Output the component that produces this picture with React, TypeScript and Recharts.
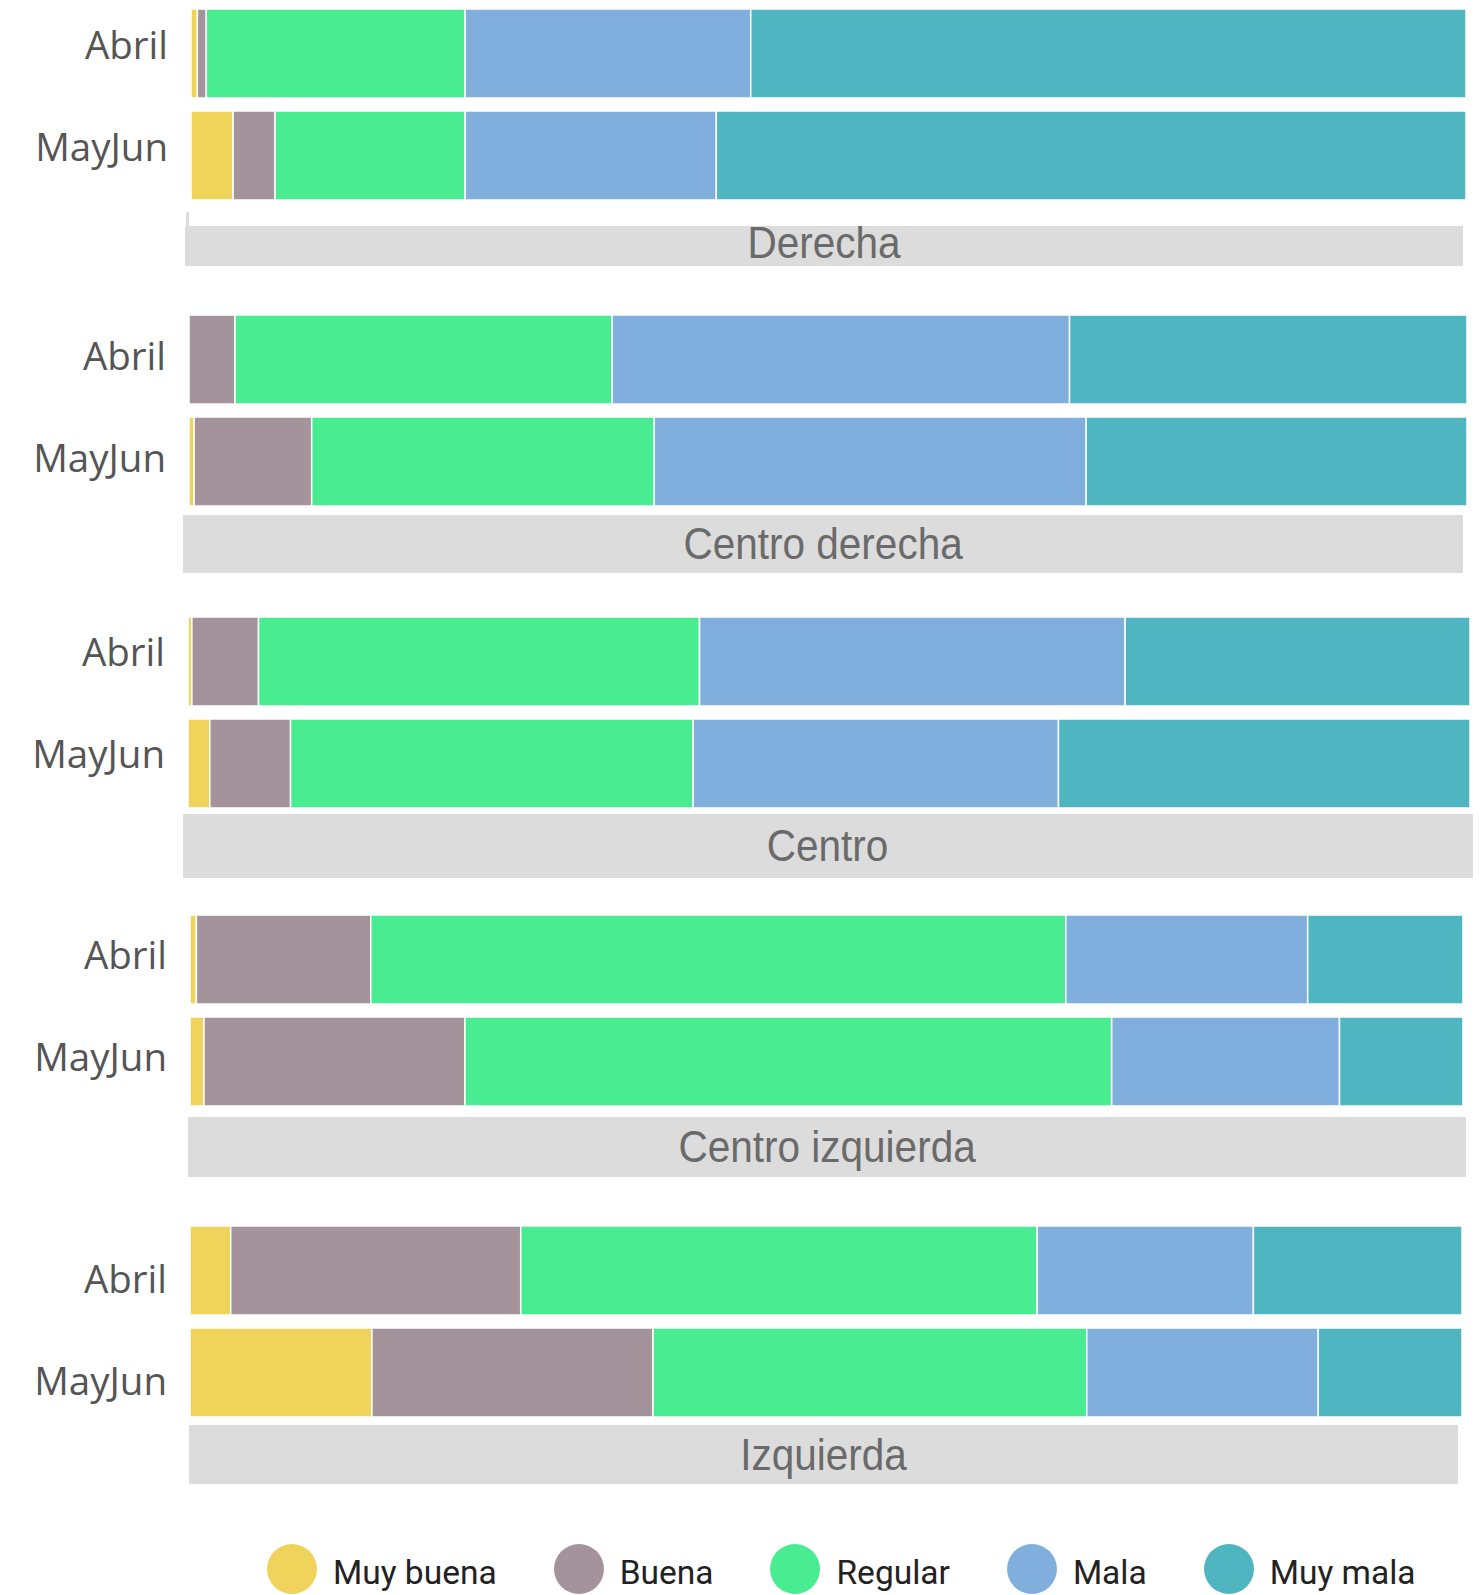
import { Bar, BarChart, XAxis, YAxis } from "recharts";

const periods = ["Abril", "MayJun"];
const groups = ["Derecha", "Centro derecha", "Centro", "Centro izquierda", "Izquierda"];
const seriesNames = ["Muy buena", "Buena", "Regular", "Mala", "Muy mala"];
const seriesKeys = ["muyBuena", "buena", "regular", "mala", "muyMala"];
const seriesColors = ["#EFD35A", "#A5939C", "#4AEC92", "#80AFDE", "#4FB6C1"];

// [Abril, MayJun] per group, in percent
const muyBuena = [[0.5, 3.3], [0, 0.4], [0.3, 1.7], [0.5, 1.1], [3.2, 14.3]];
const buena = [[0.7, 3.3], [3.6, 9.2], [5.2, 6.3], [13.7, 20.5], [22.8, 22.1]];
const regular = [[20.3, 14.9], [29.5, 26.8], [34.4, 31.4], [54.6, 50.8], [40.6, 34.1]];
const mala = [[22.4, 19.7], [35.8, 33.8], [33.2, 28.5], [19.0, 17.9], [17.0, 18.2]];
const muyMala = [[56.1, 58.8], [31.1, 29.8], [26.9, 32.1], [12.2, 9.7], [16.4, 11.3]];

const seriesValues = [muyBuena, buena, regular, mala, muyMala];

// where each panel sits on the page
const panelLayout = [
  { top: 2, barLeft: 191, barRight: 1466, labelDy: 6, bandLeft: 185, bandRight: 1463, bandTop: 226, bandHeight: 40, textShift: -3 },
  { top: 308, barLeft: 189, barRight: 1467, labelDy: 11, bandLeft: 183, bandRight: 1463, bandTop: 515, bandHeight: 58, textShift: 0 },
  { top: 610, barLeft: 188, barRight: 1470, labelDy: 5, bandLeft: 183, bandRight: 1473, bandTop: 814, bandHeight: 64, textShift: 0 },
  { top: 908, barLeft: 190, barRight: 1463, labelDy: 10, bandLeft: 188, bandRight: 1466, bandTop: 1117, bandHeight: 60, textShift: 0 },
  { top: 1219, barLeft: 190, barRight: 1462, labelDy: 23, bandLeft: 189, bandRight: 1458, bandTop: 1425, bandHeight: 59, textShift: 0 },
];

const W = 1480;

function PeriodTick({ x, y, payload, labelDy }: any) {
  return (
    <text x={x} y={y} dy={labelDy} textAnchor="end" fill="#555" fontSize={38.5}
          fontFamily="'Open Sans', sans-serif">
      {payload.value}
    </text>
  );
}

function Panel({ index }: { index: number }) {
  const l = panelLayout[index];
  const data = periods.map((p, pi) => {
    const row: Record<string, string | number> = { period: p };
    seriesKeys.forEach((k, si) => { row[k] = seriesValues[si][index][pi]; });
    return row;
  });

  return (
    <>
      <div style={{ position: "absolute", left: 0, top: l.top }}>
        <BarChart width={W} height={204} data={data} layout="vertical"
                  margin={{ top: 0, right: W - l.barRight, bottom: 0, left: 0 }}>
          <XAxis type="number" domain={[0, 100]} hide />
          <YAxis type="category" dataKey="period" width={l.barLeft} axisLine={false}
                 tickLine={false} tickSize={0} tickMargin={23}
                 tick={(props: any) => <PeriodTick {...props} labelDy={l.labelDy} />} />
          {seriesKeys.map((k, si) => (
            <Bar key={k} dataKey={k} name={seriesNames[si]} stackId="a" barSize={89}
                 fill={seriesColors[si]} stroke="#fff" strokeWidth={1.5} isAnimationActive={false} />
          ))}
        </BarChart>
      </div>
      <div style={{
        position: "absolute", left: l.bandLeft, top: l.bandTop, width: l.bandRight - l.bandLeft,
        height: l.bandHeight, background: "#DCDCDC", display: "flex", alignItems: "center",
        justifyContent: "center",
      }}>
        <span style={{
          color: "#6a6a6a", fontSize: 45, fontFamily: "'Liberation Sans', Arial, sans-serif",
          transform: `translateY(${l.textShift}px) scaleX(0.9)`, whiteSpace: "nowrap",
        }}>
          {groups[index]}
        </span>
      </div>
    </>
  );
}

export default function App() {
  return (
    <div style={{ position: "absolute", left: 0, top: 0, width: W, height: 1595, background: "#fff", overflow: "hidden" }}>
      {groups.map((g, i) => <Panel key={g} index={i} />)}
      <div style={{ position: "absolute", left: 186, top: 212, width: 3, height: 14, background: "#DCDCDC" }} />
      <div style={{
        position: "absolute", left: 267, top: 1544, display: "flex", alignItems: "center", gap: 57,
        fontFamily: "Roboto, sans-serif", fontSize: 33.5, color: "#222",
      }}>
        {seriesNames.map((n, i) => (
          <div key={n} style={{ display: "flex", alignItems: "center", gap: 16 }}>
            <div style={{ width: 50, height: 50, borderRadius: "50%", background: seriesColors[i] }} />
            <span style={{ transform: "translateY(3px)" }}>{n}</span>
          </div>
        ))}
      </div>
    </div>
  );
}
